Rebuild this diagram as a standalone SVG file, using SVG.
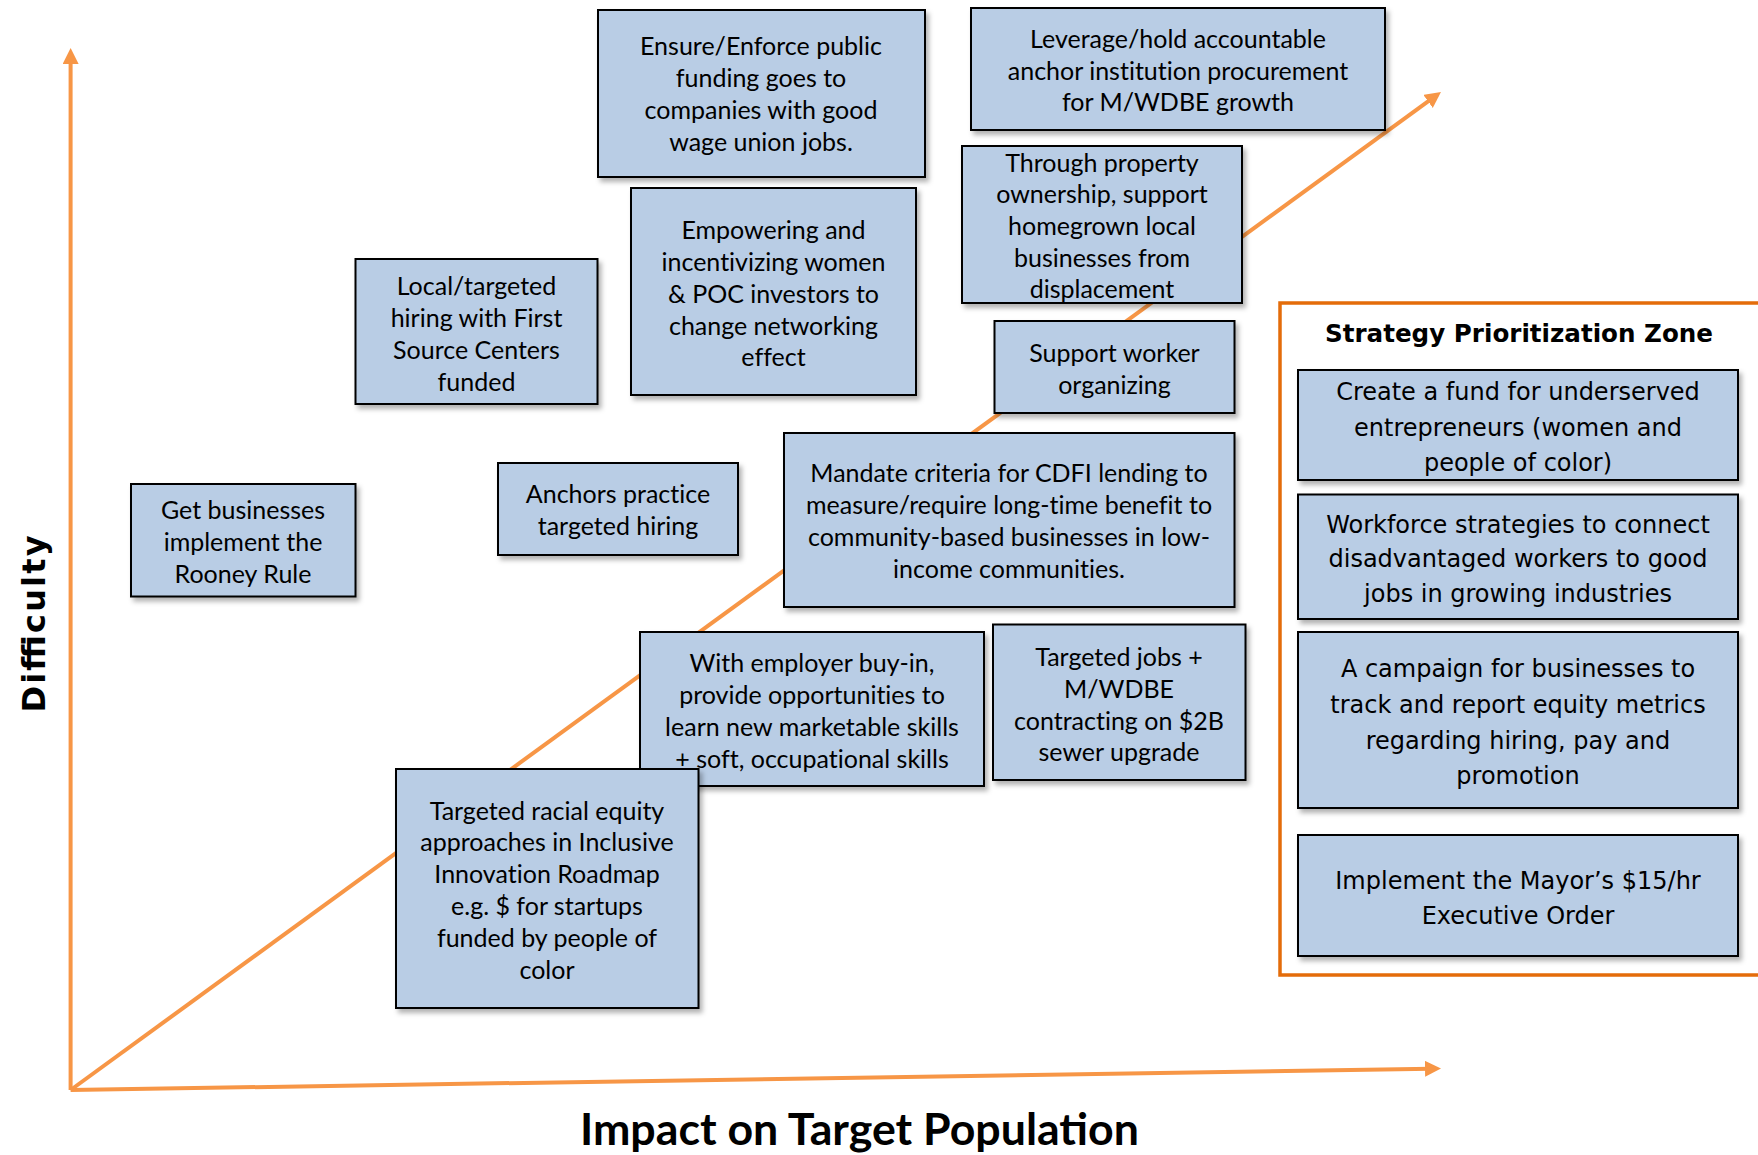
<svg xmlns="http://www.w3.org/2000/svg" width="1758" height="1155" viewBox="0 0 1758 1155">
<defs>
<filter id="sh" x="-10%" y="-10%" width="130%" height="130%">
<feDropShadow dx="3" dy="4" stdDeviation="2.5" flood-color="#000" flood-opacity="0.3"/>
</filter>
<marker id="ah" markerUnits="userSpaceOnUse" markerWidth="18" markerHeight="18" refX="6" refY="8" orient="auto">
<path d="M0,0 L16,8 L0,16 z" fill="#f79646"/>
</marker>
</defs>
<style>
.box{fill:#b9cde5;stroke:#000;stroke-width:2;filter:url(#sh)}
.t{font-family:Lato,"Liberation Sans",sans-serif;font-size:25px;fill:#000;text-anchor:middle;font-variant-ligatures:none}
.z{font-family:"DejaVu Sans","Liberation Sans",sans-serif;font-size:24px;fill:#000;text-anchor:middle}
.ax{stroke:#f79646;stroke-width:4;fill:none;marker-end:url(#ah)}
</style>
<rect width="1758" height="1155" fill="#fff"/>
<g id="connectors">
<line class="ax" x1="70.6" y1="1090" x2="70.6" y2="58"/>
<line class="ax" x1="70.6" y1="1090" x2="1431" y2="1068.7"/>
<line class="ax" x1="70.6" y1="1090" x2="1432.9" y2="97.9"/>
</g>
<g id="zone">
<rect x="1280" y="303" width="480" height="672" fill="none" stroke="#e46c0a" stroke-width="3.5"/>
<text x="1519" y="342" font-family="'DejaVu Sans','Liberation Sans',sans-serif" font-size="24" font-weight="bold" text-anchor="middle" textLength="388" lengthAdjust="spacingAndGlyphs">Strategy Prioritization Zone</text>
</g>
<g id="n-ensure"><rect class="box" x="598" y="10" width="327" height="167"/>
<text class="t"><tspan x="761" y="55">Ensure/Enforce public</tspan><tspan x="761" y="87">funding goes to</tspan><tspan x="761" y="119">companies with good</tspan><tspan x="761" y="151">wage union jobs.</tspan></text></g>
<g id="n-leverage"><rect class="box" x="971" y="8" width="414" height="122"/>
<text class="t"><tspan x="1178" y="48">Leverage/hold accountable</tspan><tspan x="1178" y="80">anchor institution procurement</tspan><tspan x="1178" y="111">for M/WDBE growth</tspan></text></g>
<g id="n-property"><rect class="box" x="962" y="146" width="280" height="157"/>
<text class="t"><tspan x="1102" y="172">Through property</tspan><tspan x="1102" y="203">ownership, support</tspan><tspan x="1102" y="235">homegrown local</tspan><tspan x="1102" y="267">businesses from</tspan><tspan x="1102" y="298">displacement</tspan></text></g>
<g id="n-empowering"><rect class="box" x="631" y="188" width="285" height="207"/>
<text class="t"><tspan x="773.5" y="239">Empowering and</tspan><tspan x="773.5" y="271">incentivizing women</tspan><tspan x="773.5" y="303">&amp; POC investors to</tspan><tspan x="773.5" y="335">change networking</tspan><tspan x="773.5" y="366">effect</tspan></text></g>
<g id="n-local"><rect class="box" x="355.5" y="259" width="242" height="145"/>
<text class="t"><tspan x="476.5" y="295">Local/targeted</tspan><tspan x="476.5" y="327">hiring with First</tspan><tspan x="476.5" y="359">Source Centers</tspan><tspan x="476.5" y="391">funded</tspan></text></g>
<g id="n-support"><rect class="box" x="994.5" y="321" width="240" height="92"/>
<text class="t"><tspan x="1114.5" y="362">Support worker</tspan><tspan x="1114.5" y="394">organizing</tspan></text></g>
<g id="n-mandate"><rect class="box" x="784" y="433" width="450.5" height="174"/>
<text class="t"><tspan x="1009" y="482">Mandate criteria for CDFI lending to</tspan><tspan x="1009" y="514">measure/require long-time benefit to</tspan><tspan x="1009" y="546">community-based businesses in low-</tspan><tspan x="1009" y="578">income communities.</tspan></text></g>
<g id="n-anchors"><rect class="box" x="498" y="463" width="240" height="92"/>
<text class="t"><tspan x="618" y="503">Anchors practice</tspan><tspan x="618" y="535">targeted hiring</tspan></text></g>
<g id="n-rooney"><rect class="box" x="131" y="484" width="224.5" height="112.5"/>
<text class="t"><tspan x="243" y="519">Get businesses</tspan><tspan x="243" y="551">implement the</tspan><tspan x="243" y="583">Rooney Rule</tspan></text></g>
<g id="n-employer"><rect class="box" x="640" y="632" width="344" height="154"/>
<text class="t"><tspan x="812" y="672">With employer buy-in,</tspan><tspan x="812" y="704">provide opportunities to</tspan><tspan x="812" y="736">learn new marketable skills</tspan><tspan x="812" y="768">+ soft, occupational skills</tspan></text></g>
<g id="n-jobs"><rect class="box" x="993" y="624.5" width="252.5" height="155.5"/>
<text class="t"><tspan x="1119" y="666">Targeted jobs +</tspan><tspan x="1119" y="698">M/WDBE</tspan><tspan x="1119" y="730">contracting on $2B</tspan><tspan x="1119" y="761">sewer upgrade</tspan></text></g>
<g id="n-racial"><rect class="box" x="396" y="769" width="302.5" height="239"/>
<text class="t"><tspan x="547" y="820">Targeted racial equity</tspan><tspan x="547" y="851">approaches in Inclusive</tspan><tspan x="547" y="883">Innovation Roadmap</tspan><tspan x="547" y="915">e.g. $ for startups</tspan><tspan x="547" y="947">funded by people of</tspan><tspan x="547" y="979">color</tspan></text></g>
<g id="n-fund"><rect class="box" x="1298" y="370" width="440" height="110"/>
<text class="z"><tspan x="1518" y="400">Create a fund for underserved</tspan><tspan x="1518" y="436">entrepreneurs (women and</tspan><tspan x="1518" y="471">people of color)</tspan></text></g>
<g id="n-workforce"><rect class="box" x="1298" y="494.5" width="440" height="124.5"/>
<text class="z"><tspan x="1518" y="533">Workforce strategies to connect</tspan><tspan x="1518" y="567">disadvantaged workers to good</tspan><tspan x="1518" y="602">jobs in growing industries</tspan></text></g>
<g id="n-campaign"><rect class="box" x="1298" y="632" width="440" height="176"/>
<text class="z"><tspan x="1518" y="677">A campaign for businesses to</tspan><tspan x="1518" y="713">track and report equity metrics</tspan><tspan x="1518" y="749">regarding hiring, pay and</tspan><tspan x="1518" y="784">promotion</tspan></text></g>
<g id="n-mayor"><rect class="box" x="1298" y="835" width="440" height="121"/>
<text class="z"><tspan x="1518" y="889">Implement the Mayor’s $15/hr</tspan><tspan x="1518" y="924">Executive Order</tspan></text></g>
<g id="labels">
<text transform="translate(45,624) rotate(-90)" font-family="'DejaVu Sans','Liberation Sans',sans-serif" font-size="32" font-weight="bold" text-anchor="middle" textLength="177">Difficulty</text>
<text x="859.5" y="1145" font-family="Lato,'Liberation Sans',sans-serif" font-size="44" font-weight="bold" text-anchor="middle" textLength="559" lengthAdjust="spacingAndGlyphs">Impact on Target Population</text>
</g>
</svg>
